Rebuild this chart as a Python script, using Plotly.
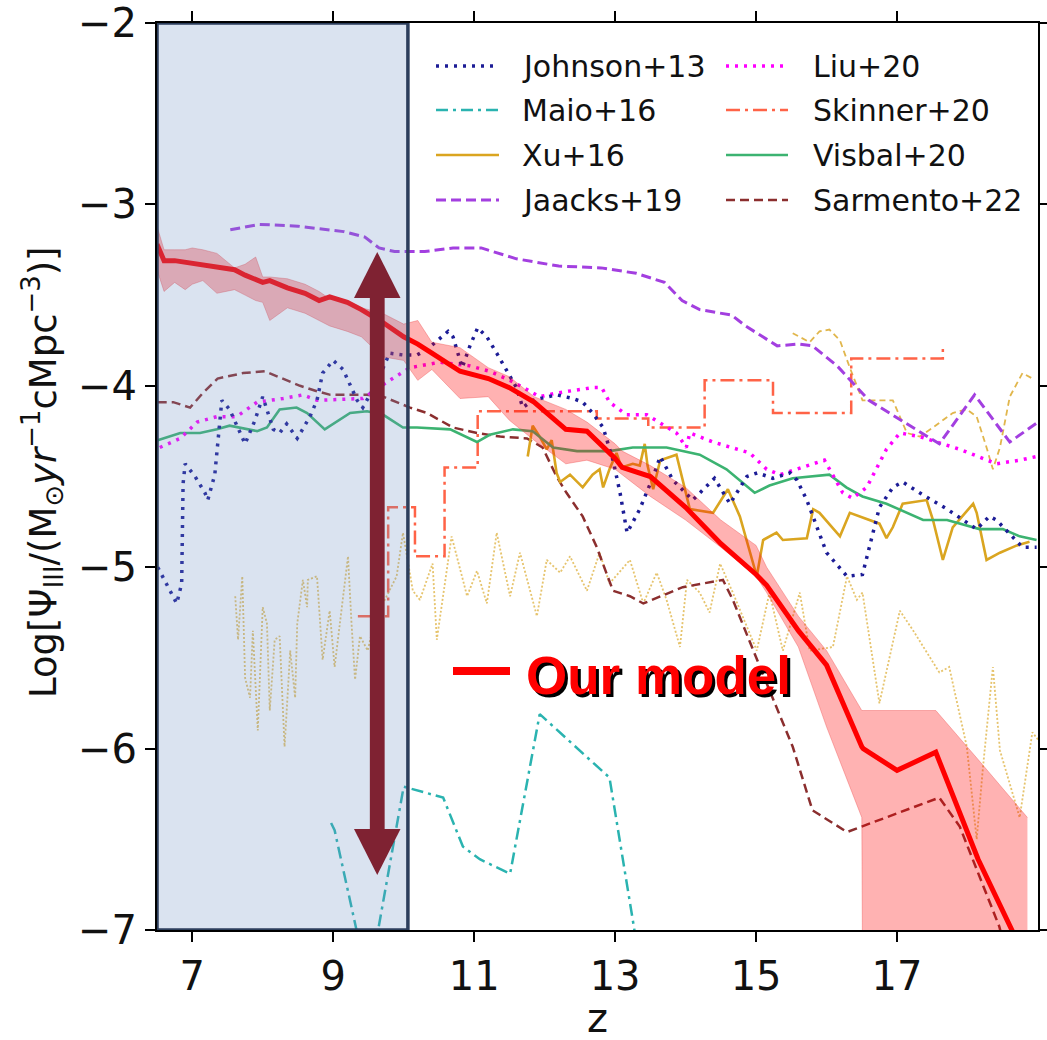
import plotly.graph_objects as go

# ---------------- data ----------------
model_z = [6.5, 6.6, 6.75, 6.9, 7.0, 7.15, 7.35, 7.6, 7.75, 7.9, 8.0, 8.1, 8.35, 8.6, 8.8, 8.95,
           9.2, 9.4, 9.7, 10.0, 10.2, 10.4, 10.8, 11.2, 11.5, 11.85, 12.3, 12.6, 13.0, 13.1, 13.5,
           14.0, 14.5, 15.0, 15.15, 15.6, 16.0, 16.5, 16.52, 17.0, 17.55, 18.15, 18.85]
model_mid = [-3.22, -3.31, -3.31, -3.32, -3.32, -3.33, -3.35, -3.36, -3.39, -3.41, -3.43, -3.42,
             -3.46, -3.49, -3.53, -3.51, -3.54, -3.58, -3.65, -3.73, -3.77, -3.82, -3.92, -3.96,
             -4.01, -4.09, -4.24, -4.25, -4.40, -4.45, -4.50, -4.67, -4.87, -5.04, -5.10, -5.35,
             -5.54, -5.99, -6.00, -6.12, -6.02, -6.61, -7.18]
model_hi = [-3.12, -3.25, -3.25, -3.25, -3.24, -3.25, -3.27, -3.35, -3.33, -3.29, -3.40, -3.40,
            -3.41, -3.44, -3.48, -3.52, -3.53, -3.57, -3.60, -3.66, -3.64, -3.76, -3.79, -3.90,
            -3.95, -4.06, -4.13, -4.20, -4.32, -4.36, -4.44, -4.56, -4.74, -4.88, -5.00, -5.27,
            -5.46, -5.79, -5.79, -5.79, -5.79, -6.06, -6.38]
model_lo = [-3.36, -3.48, -3.43, -3.47, -3.44, -3.42, -3.49, -3.47, -3.50, -3.53, -3.54, -3.64,
            -3.57, -3.60, -3.64, -3.67, -3.70, -3.73, -3.84, -3.86, -3.97, -3.91, -4.07, -4.06,
            -4.19, -4.30, -4.43, -4.41, -4.46, -4.49, -4.61, -4.74, -4.89, -5.05, -5.14, -5.44,
            -5.88, -6.38, -8.0, -8.0, -8.0, -8.0, -8.0]

johnson_z = [6.51, 6.64, 6.78, 6.85, 6.87, 6.90, 7.04, 7.18, 7.22, 7.32, 7.42, 7.53, 7.75, 7.89,
             8.0, 8.15, 8.24, 8.34, 8.49, 8.67, 8.77, 8.85, 9.0, 9.14, 9.34, 9.42, 9.62, 9.80,
             9.99, 10.19, 10.33, 10.63, 10.70, 10.83, 10.94, 11.05, 11.18, 11.32, 11.46, 11.60,
             11.69, 11.83, 12.17, 12.40, 12.54, 12.68, 12.83, 12.97, 13.07, 13.17, 13.35, 13.54,
             13.64, 13.82, 14.10, 14.25, 14.41, 14.63, 14.87, 15.02, 15.24, 15.48, 15.58, 15.72,
             16.00, 16.29, 16.51, 16.75, 16.94, 17.08, 17.32, 17.71, 18.13, 18.31, 18.41, 18.78, 18.98]
johnson_y = [-5.00, -5.10, -5.20, -5.09, -4.54, -4.43, -4.50, -4.59, -4.63, -4.49, -4.08, -4.13,
             -4.32, -4.19, -4.06, -4.24, -4.26, -4.21, -4.29, -4.17, -4.08, -3.93, -3.86, -3.91,
             -4.08, -4.12, -3.98, -3.82, -3.83, -3.83, -3.80, -3.70, -3.73, -3.90, -3.78, -3.68,
             -3.73, -3.82, -3.92, -4.01, -4.12, -4.08, -4.05, -4.07, -4.09, -4.15, -4.23, -4.41,
             -4.59, -4.81, -4.68, -4.50, -4.39, -4.52, -4.63, -4.57, -4.51, -4.65, -4.50, -4.48,
             -4.51, -4.48, -4.52, -4.63, -4.92, -5.05, -5.04, -4.67, -4.56, -4.53, -4.59, -4.68,
             -4.79, -4.72, -4.74, -4.89, -4.89]

liu_z = [6.54, 6.83, 7.07, 7.35, 7.63, 7.92, 8.29, 8.57, 8.77, 9.24, 9.42, 9.80, 10.09, 10.51,
         10.94, 11.22, 11.51, 11.93, 12.17, 12.68, 12.81, 12.92, 13.16, 13.45, 13.87, 14.01, 14.06,
         14.39, 14.91, 15.15, 15.34, 15.81, 15.97, 16.23, 16.37, 16.57, 16.85, 17.04, 17.32,
         17.89, 18.41, 18.74, 18.98]
liu_y = [-4.34, -4.29, -4.20, -4.17, -4.17, -4.09, -4.07, -4.05, -4.08, -4.07, -4.07, -3.97,
         -3.90, -3.87, -3.89, -3.92, -3.97, -4.06, -4.04, -4.01, -4.01, -4.09, -4.16, -4.16,
         -4.26, -4.34, -4.26, -4.31, -4.37, -4.46, -4.49, -4.43, -4.41, -4.59, -4.62, -4.56,
         -4.35, -4.26, -4.28, -4.35, -4.43, -4.41, -4.39]

maio_z = [8.97, 9.02, 9.5, 10.0, 10.56, 10.84, 11.08, 11.51, 11.93, 12.92, 13.4]
maio_y = [-6.41, -6.45, -7.3, -6.21, -6.27, -6.54, -6.61, -6.69, -5.81, -6.16, -7.3]

skinner_z = [9.35, 9.78, 10.16, 10.58, 11.05, 12.74, 13.47, 14.27, 15.24, 16.35, 17.65]
skinner_y = [-5.27, -4.67, -4.94, -4.45, -4.14, -4.18, -4.23, -3.97, -4.15, -3.85, -3.78]

xu_z = [11.76, 11.83, 11.93, 12.03, 12.10, 12.17, 12.22, 12.36, 12.54, 12.68, 12.78, 12.83,
        12.92, 13.02, 13.09, 13.25, 13.35, 13.42, 13.46, 13.54, 13.64, 13.87, 14.06, 14.39,
        14.60, 14.67, 14.77, 15.01, 15.10, 15.29, 15.38, 15.72, 15.81, 15.90, 16.19, 16.33,
        16.75, 16.85, 16.94, 17.08, 17.42, 17.51, 17.65, 17.79, 18.08, 18.13, 18.27, 18.46,
        18.70, 18.88]
xu_y = [-4.39, -4.22, -4.28, -4.35, -4.30, -4.48, -4.53, -4.49, -4.56, -4.49, -4.46, -4.56,
        -4.46, -4.37, -4.45, -4.43, -4.44, -4.32, -4.44, -4.57, -4.41, -4.38, -4.68, -4.70,
        -4.57, -4.63, -4.72, -5.05, -4.85, -4.81, -4.85, -4.84, -4.68, -4.70, -4.83, -4.70,
        -4.76, -4.84, -4.78, -4.65, -4.63, -4.74, -4.96, -4.78, -4.65, -4.70, -4.96, -4.92,
        -4.88, -4.86]

xu_dash_z = [15.52, 15.76, 15.90, 16.04, 16.19, 16.33, 16.51, 16.94, 17.14, 17.32, 17.51,
             17.79, 17.99, 18.13, 18.27, 18.36, 18.46, 18.60, 18.78, 18.92]
xu_dash_y = [-3.71, -3.76, -3.70, -3.69, -3.75, -3.90, -4.08, -4.08, -4.26, -4.28, -4.23,
             -4.15, -4.13, -4.17, -4.34, -4.46, -4.34, -4.06, -3.93, -3.96]

xu_dot_z = [7.61, 7.65, 7.71, 7.75, 7.82, 7.86, 7.93, 8.00, 8.06, 8.10, 8.17, 8.24, 8.31, 8.39,
            8.46, 8.49, 8.57, 8.63, 8.64, 8.77, 8.85, 8.95, 9.02, 9.12, 9.21, 9.26, 9.31, 9.38,
            9.49, 9.59, 9.80, 9.90, 9.99, 10.13, 10.23, 10.41, 10.47, 10.68, 10.90, 11.04, 11.18,
            11.32, 11.51, 11.65, 11.89, 12.03, 12.22, 12.36, 12.60, 12.78, 12.92, 13.21, 13.40,
            13.59, 13.73, 13.92, 14.02, 14.20, 14.34, 14.49, 14.67, 15.01, 15.19, 15.38, 15.62,
            15.76, 16.09, 16.29, 16.43, 16.51, 16.75, 17.04, 17.23, 17.60, 17.74, 17.99, 18.13,
            18.22, 18.36, 18.46, 18.74, 18.92, 19.0]
xu_dot_y = [-5.16, -5.40, -5.05, -5.61, -5.72, -5.35, -5.90, -5.22, -5.31, -5.79, -5.40, -5.38,
            -5.99, -5.46, -5.72, -5.31, -5.07, -5.22, -5.07, -5.05, -5.51, -5.24, -5.55, -5.24,
            -4.94, -5.31, -5.62, -5.38, -5.46, -5.29, -5.13, -5.05, -4.81, -5.13, -5.18, -4.98,
            -5.40, -4.83, -5.16, -5.02, -5.20, -4.81, -5.16, -4.92, -5.27, -4.96, -5.03, -4.94,
            -5.13, -4.92, -5.09, -4.96, -5.20, -5.03, -5.18, -5.44, -5.07, -5.14, -5.25, -4.98,
            -5.14, -5.46, -5.14, -5.46, -5.14, -5.46, -5.44, -5.05, -5.18, -5.14, -5.75, -5.24,
            -5.35, -5.58, -5.55, -5.99, -6.50, -6.10, -5.55, -6.01, -6.38, -5.91, -5.95]

visbal_z = [6.51, 6.83, 7.11, 7.35, 7.53, 7.92, 8.06, 8.24, 8.48, 8.63, 8.88, 9.24, 9.48, 9.71,
            9.99, 10.19, 10.66, 11.04, 11.22, 11.55, 11.83, 12.12, 12.46, 12.92, 13.25, 13.73,
            14.20, 14.58, 14.98, 15.19, 15.52, 16.04, 16.28, 16.51, 16.85, 17.14, 17.37, 17.71,
            18.17, 18.50, 18.74, 18.98]
visbal_y = [-4.30, -4.26, -4.26, -4.24, -4.22, -4.25, -4.23, -4.13, -4.12, -4.15, -4.24, -4.15,
            -4.14, -4.16, -4.23, -4.23, -4.24, -4.31, -4.27, -4.24, -4.25, -4.34, -4.36, -4.36,
            -4.34, -4.34, -4.38, -4.46, -4.59, -4.55, -4.51, -4.49, -4.56, -4.61, -4.65, -4.70,
            -4.74, -4.74, -4.79, -4.79, -4.83, -4.85]

jaacks_z = [7.54, 7.95, 8.5, 9.15, 9.45, 9.65, 9.87, 10.3, 10.7, 11.1, 11.6, 12.2, 12.8, 13.3,
            13.7, 13.95, 14.2, 14.65, 14.85, 15.3, 15.6, 15.8, 16.15, 16.6, 17.6, 18.1, 18.6, 19.0]
jaacks_y = [-3.14, -3.11, -3.12, -3.15, -3.18, -3.24, -3.26, -3.26, -3.24, -3.24, -3.30, -3.34,
            -3.35, -3.38, -3.43, -3.53, -3.58, -3.61, -3.67, -3.78, -3.77, -3.78, -3.89, -4.08,
            -4.32, -4.05, -4.31, -4.20]

sarmento_z = [6.51, 6.73, 6.97, 7.15, 7.36, 7.72, 8.03, 8.29, 8.53, 8.77, 8.96, 9.48, 9.71, 9.90,
              10.09, 10.33, 10.70, 11.04, 11.37, 11.75, 11.97, 12.17, 12.31, 12.54, 12.74, 12.97,
              13.21, 13.40, 13.96, 14.53, 14.67, 15.15, 15.52, 15.80, 16.29, 17.60, 17.89, 18.45, 18.6]
sarmento_y = [-4.09, -4.09, -4.12, -4.04, -3.96, -3.93, -3.92, -3.96, -4.00, -4.03, -4.05, -4.05,
              -4.06, -4.09, -4.12, -4.15, -4.23, -4.26, -4.28, -4.29, -4.34, -4.50, -4.59, -4.72,
              -4.89, -5.13, -5.16, -5.20, -5.11, -5.07, -5.18, -5.64, -5.99, -6.34, -6.46, -6.27,
              -6.43, -6.98, -7.2]

x_ticks = [7, 9, 11, 13, 15, 17]
y_ticks = [-7, -6, -5, -4, -3, -2]

legend_names = ["Johnson+13", "Maio+16", "Xu+16", "Jaacks+19",
                "Liu+20", "Skinner+20", "Visbal+20", "Sarmento+22"]

# ---------------- styles ----------------
C_JOHNSON = "#1c1c96"
C_LIU = "#ff00ff"
C_MAIO = "#2ab3b0"
C_SKINNER = "#ff6347"
C_XU = "#daa520"
C_VISBAL = "#3cb371"
C_JAACKS = "#a33fe0"
C_SARMENTO = "#8b2e2e"

styles = {
    "Johnson+13": dict(color=C_JOHNSON, width=3.5, dash="3px,6px"),
    "Maio+16": dict(color=C_MAIO, width=2.5, dash="12px,5px,3px,5px"),
    "Xu+16": dict(color=C_XU, width=2.6, dash="solid"),
    "Jaacks+19": dict(color=C_JAACKS, width=3, dash="10px,5px"),
    "Liu+20": dict(color=C_LIU, width=3.5, dash="3px,6px"),
    "Skinner+20": dict(color=C_SKINNER, width=2.5, dash="14px,5px,3px,5px"),
    "Visbal+20": dict(color=C_VISBAL, width=2.6, dash="solid"),
    "Sarmento+22": dict(color=C_SARMENTO, width=2.5, dash="9px,5px"),
}

W, H = 1047, 1040
ML, MR, MT, MB = 157, 9, 23, 110
PW, PH = W - ML - MR, H - MT - MB


def PX(px):
    return (px - ML) / PW


def PY(py):
    return 1 - (py - MT) / PH


fig = go.Figure()

# thin Xu variants
fig.add_trace(go.Scatter(x=xu_dot_z, y=xu_dot_y, mode="lines", opacity=0.65,
                         line=dict(color=C_XU, width=1.8, dash="2px,2px"), showlegend=False))
fig.add_trace(go.Scatter(x=xu_dash_z, y=xu_dash_y, mode="lines", opacity=0.8,
                         line=dict(color=C_XU, width=1.8, dash="6px,4px"), showlegend=False))

series = [
    ("Sarmento+22", sarmento_z, sarmento_y, "linear"),
    ("Maio+16", maio_z, maio_y, "linear"),
    ("Skinner+20", skinner_z, skinner_y, "hv"),
    ("Xu+16", xu_z, xu_y, "linear"),
    ("Visbal+20", visbal_z, visbal_y, "linear"),
    ("Liu+20", liu_z, liu_y, "linear"),
    ("Johnson+13", johnson_z, johnson_y, "linear"),
    ("Jaacks+19", jaacks_z, jaacks_y, "linear"),
]
for name, xs, ys, shape in series:
    st = styles[name]
    fig.add_trace(go.Scatter(x=xs, y=ys, mode="lines", name=name, showlegend=False,
                             line=dict(color=st["color"], width=st["width"], dash=st["dash"],
                                       shape=shape)))

# model band + line
fig.add_trace(go.Scatter(x=model_z, y=model_hi, mode="lines",
                         line=dict(color="rgba(235,60,60,0.35)", width=1), showlegend=False))
fig.add_trace(go.Scatter(x=model_z, y=model_lo, mode="lines", fill="tonexty",
                         fillcolor="rgba(255,0,0,0.30)",
                         line=dict(color="rgba(235,60,60,0.35)", width=1), showlegend=False))
fig.add_trace(go.Scatter(x=model_z, y=model_mid, mode="lines",
                         line=dict(color="#ff0000", width=5), showlegend=False))

# ---------------- overlay box and arrow ----------------
BOX_X1 = 10.06
shapes = [
    dict(type="rect", xref="x", yref="y", x0=6.45, x1=BOX_X1, y0=-7, y1=-2,
         fillcolor="rgba(107,143,195,0.25)", line=dict(width=0), layer="above"),
    dict(type="rect", xref="x", yref="y", x0=6.5, x1=BOX_X1, y0=-7, y1=-2,
         fillcolor="rgba(0,0,0,0)", line=dict(color="#2c3e5c", width=3.5), layer="above"),
]
AX, AHW, SHW = 9.625, 0.33, 0.105
A_TOP, A_TOPB, A_BOTB, A_BOT = -3.262, -3.516, -6.443, -6.697
ARROW_C = "#7f2232"
shapes.append(dict(type="rect", xref="x", yref="y", x0=AX - SHW, x1=AX + SHW,
                   y0=A_BOTB, y1=A_TOPB, fillcolor=ARROW_C, line=dict(width=0), layer="above"))
shapes.append(dict(type="path", xref="x", yref="y",
                   path=f"M {AX-AHW},{A_TOPB} L {AX+AHW},{A_TOPB} L {AX},{A_TOP} Z",
                   fillcolor=ARROW_C, line=dict(width=0), layer="above"))
shapes.append(dict(type="path", xref="x", yref="y",
                   path=f"M {AX-AHW},{A_BOTB} L {AX+AHW},{A_BOTB} L {AX},{A_BOT} Z",
                   fillcolor=ARROW_C, line=dict(width=0), layer="above"))

# "Our model" sample line
shapes.append(dict(type="line", xref="paper", yref="paper", x0=PX(453), x1=PX(510),
                   y0=PY(671), y1=PY(671), line=dict(color="#ff0000", width=8), layer="above"))

annotations = []
# legend (manual, two columns)
col_sample = [(436, 499), (726, 788)]
col_text = [520, 811]
row_y = [66, 110, 155, 200]
for i, name in enumerate(legend_names):
    c, r = i // 4, i % 4
    st = styles[name]
    shapes.append(dict(type="line", xref="paper", yref="paper",
                       x0=PX(col_sample[c][0]), x1=PX(col_sample[c][1]),
                       y0=PY(row_y[r]), y1=PY(row_y[r]),
                       line=dict(color=st["color"], width=st["width"], dash=st["dash"]),
                       layer="above"))
    annotations.append(dict(xref="paper", yref="paper", x=PX(col_text[c]), y=PY(row_y[r]),
                            text=name, showarrow=False, xanchor="left", yanchor="middle",
                            font=dict(family="DejaVu Sans", size=30, color="#111111")))

# "Our model" text with shadow
for dx, col in [(3, "#000000"), (0, "#ff0000")]:
    annotations.append(dict(xref="paper", yref="paper", x=PX(524 + dx), y=PY(675 + dx),
                            text="<b>Our model</b>", showarrow=False, xanchor="left",
                            yanchor="middle",
                            font=dict(family="Liberation Sans, Arial", size=53, color=col)))

# axis titles
annotations.append(dict(xref="paper", yref="paper", x=PX(597), y=PY(1018), text="z",
                        showarrow=False, xanchor="center", yanchor="middle",
                        font=dict(family="DejaVu Sans", size=40, color="#111111")))
annotations.append(dict(xref="paper", yref="paper", x=PX(42), y=PY(472),
                        text="Log[Ψ<sub>III</sub>/(M<sub>⊙</sub><i>yr</i><sup>−1</sup>cMpc<sup>−3</sup>)]",
                        showarrow=False, textangle=-90, xanchor="center", yanchor="middle",
                        font=dict(family="DejaVu Sans", size=37, color="#111111")))

axis_common = dict(showline=True, linecolor="black", linewidth=2, mirror="ticks",
                   ticks="outside", ticklen=10, tickwidth=2, tickcolor="black",
                   showgrid=False, zeroline=False, automargin=False,
                   tickfont=dict(family="DejaVu Sans", size=40, color="#111111"))

fig.update_layout(
    width=W, height=H,
    margin=dict(l=ML, r=MR, t=MT, b=MB),
    paper_bgcolor="white", plot_bgcolor="white",
    font=dict(family="DejaVu Sans"),
    showlegend=False,
    xaxis=dict(range=[6.5, 19], tickvals=x_ticks, **axis_common),
    yaxis=dict(range=[-7, -2], tickvals=y_ticks, **axis_common),
    shapes=shapes,
    annotations=annotations,
)

fig.write_html("out.html")
